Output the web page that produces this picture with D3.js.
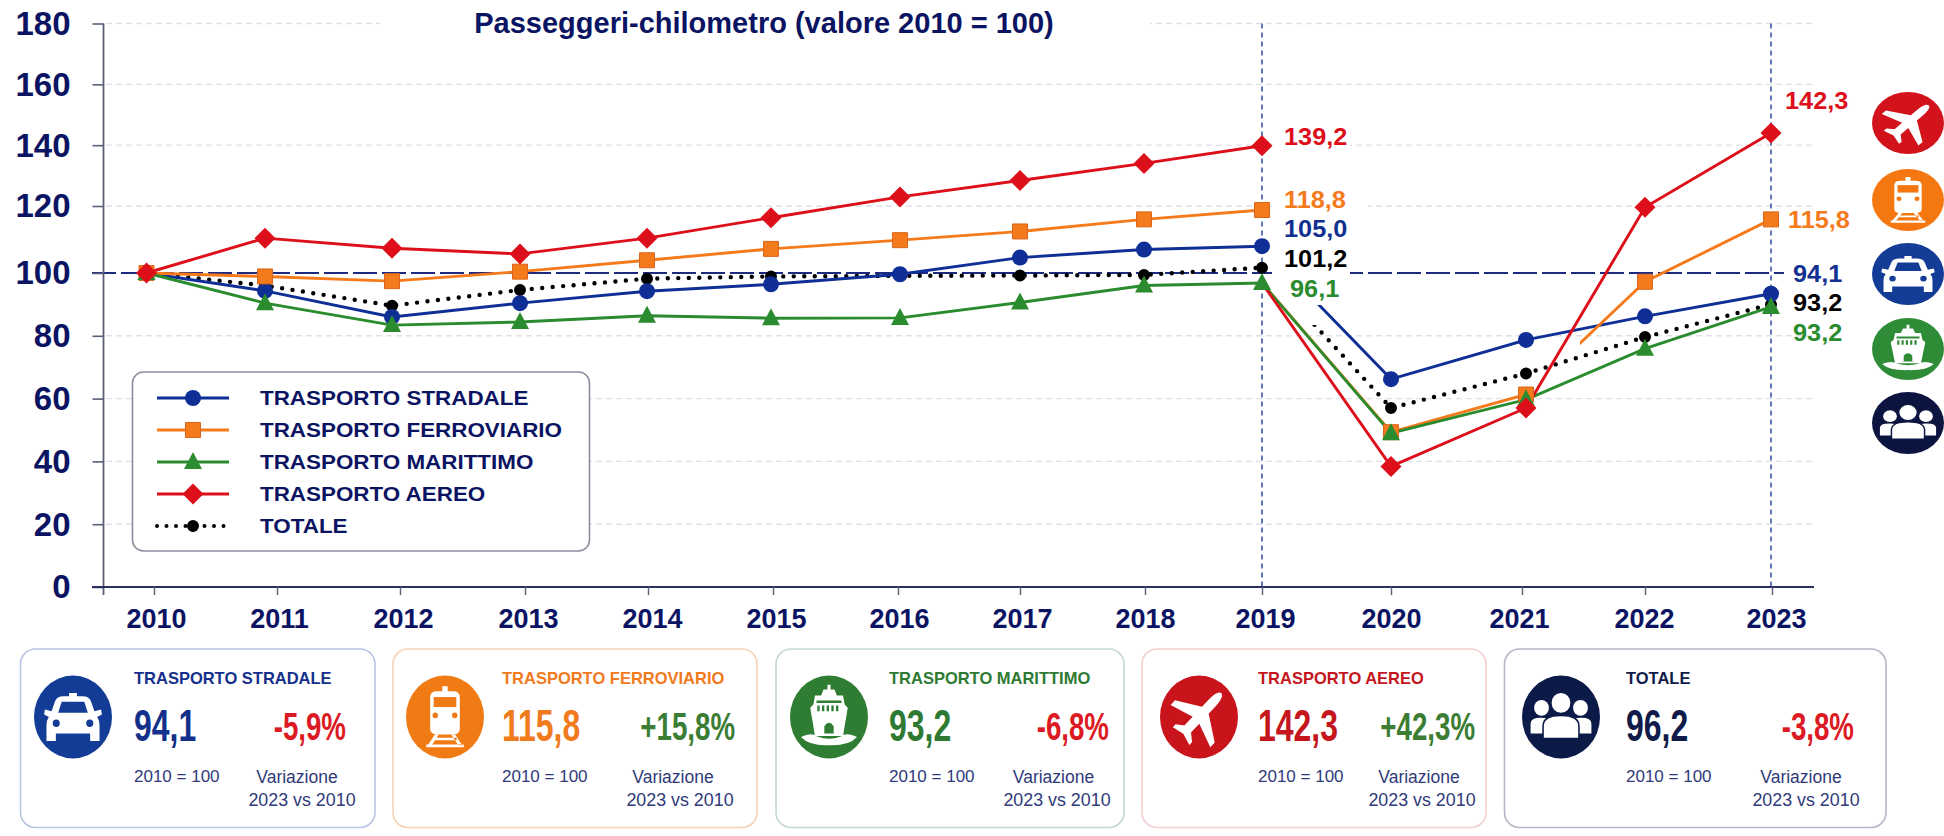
<!DOCTYPE html>
<html><head><meta charset="utf-8">
<style>html,body{margin:0;padding:0;background:#fff;overflow:hidden}svg{display:block}text{font-family:"Liberation Sans",Arial,sans-serif}</style>
<script src="https://cdn.jsdelivr.net/npm/d3@7/dist/d3.min.js"></script>
</head><body><svg id="c" width="1944" height="836"></svg>
<script>
const years=[2010,2011,2012,2013,2014,2015,2016,2017,2018,2019,2020,2021,2022,2023];
const stradale=[100,94.3,86,90.4,94.2,96.4,99.6,104.6,107,108,66.2,78.7,86.2,93.4];
const ferroviario=[100,98.9,97.4,100.4,103.8,107.2,109.8,112.4,116,118.8,49.3,61.3,97.2,116];
const marittimo=[100,90.4,83.4,84.4,86.4,85.6,85.7,90.6,96,96.8,49,59.7,75.9,89.2];
const aereo=[100,110.4,107.4,105.7,110.4,116.5,123,128.4,134,139.8,38.4,57,119.6,144];
const totale=[100,96,89.6,94.6,98.2,98.9,99.1,99.2,99.4,101.6,57,68,79.6,90];
const yTicks=[0,20,40,60,80,100,120,140,160,180];
const legendLabels=["TRASPORTO STRADALE","TRASPORTO FERROVIARIO","TRASPORTO MARITTIMO","TRASPORTO AEREO","TOTALE"];
const cardValues=["94,1","115,8","93,2","142,3","96,2"];
const cardChanges=["-5,9%","+15,8%","-6,8%","+42,3%","-3,8%"];
const labels2019=["139,2","118,8","105,0","101,2","96,1"];
const labels2023=["142,3","115,8","94,1","93,2","93,2"];

const NAVY="#0b1462",C={road:"#0f2f96",rail:"#f47a1c",sea:"#2a8c2e",air:"#dc0f1a",tot:"#000"};
const svg=d3.select("#c");
svg.append("rect").attr("width",1944).attr("height",836).attr("fill","#fff");
const y=d3.scaleLinear().domain([0,100,120,180]).range([587,273,206,23.5]);
const xPt=d3.scaleLinear().domain(years).range([146.5,265,392,520,647,771,900,1020,1144,1262,1391,1526,1645,1771]);
const xTick=d3.scaleLinear().domain(years).range([154,277,400,525,648,773,898,1020,1145,1262,1391,1522,1645,1772]);
const xLabel=d3.scaleLinear().domain(years).range([156,279,403,528,652,776,899,1022,1145,1265,1391,1519,1644,1776]);
function squeeze(sel,f){sel.each(function(){const n=this.getComputedTextLength();this.setAttribute("textLength",n*f);this.setAttribute("lengthAdjust","spacingAndGlyphs");});return sel;}

// grid
const grid=svg.append("g");
grid.selectAll("line").data(yTicks.filter(d=>d!==0&&d!==100)).join("line")
 .attr("x1",106).attr("x2",1815).attr("y1",d=>y(d)).attr("y2",d=>y(d))
 .attr("stroke","#e0e1e8").attr("stroke-width",1.4).attr("stroke-dasharray","6 4");
// title mask
svg.append("rect").attr("x",380).attr("y",8).attr("width",770).attr("height",34).attr("fill","#fff");
// reference line
svg.append("line").attr("x1",92).attr("x2",1784).attr("y1",y(100)).attr("y2",y(100))
 .attr("stroke","#1d2a80").attr("stroke-width",2).attr("stroke-dasharray","24 5");
// verticals
[2019,2023].forEach(v=>svg.append("line").attr("x1",xPt(v)).attr("x2",xPt(v)).attr("y1",y(180)).attr("y2",y(0))
 .attr("stroke","#3d55ad").attr("stroke-width",1.6).attr("stroke-dasharray","5 4"));
// label masks
svg.append("rect").attr("x",1272).attr("y",130).attr("width",78).attr("height",172).attr("fill","#fff");
svg.append("rect").attr("x",1350).attr("y",195).attr("width",18).attr("height",22).attr("fill","#fff");

// axes
const ya=d3.axisLeft(y).tickValues(yTicks).tickSize(11).tickPadding(22);
const yg=svg.append("g").attr("transform","translate(103.5,0)").call(ya);
yg.select(".domain").remove();
yg.selectAll("line").attr("stroke","#5a5e78").attr("stroke-width",1.6);
yg.selectAll("text").attr("fill",NAVY).attr("font-weight",700).attr("font-size",33).attr("dy",".33em");
svg.append("line").attr("x1",103.5).attr("x2",103.5).attr("y1",y(180)).attr("y2",y(0)+8).attr("stroke","#5a5e78").attr("stroke-width",1.8);
svg.append("line").attr("x1",92).attr("x2",1814).attr("y1",y(0)).attr("y2",y(0)).attr("stroke","#2a3060").attr("stroke-width",2);
const xa=d3.axisBottom(xTick).tickValues(years).tickFormat(d3.format("d")).tickSize(8).tickPadding(14);
const xg=svg.append("g").attr("transform",`translate(0,${y(0)})`).call(xa);
xg.select(".domain").remove();
xg.selectAll("line").attr("stroke","#5a5e78").attr("stroke-width",1.4);
xg.selectAll("text").attr("fill",NAVY).attr("font-weight",700).attr("font-size",27).attr("x",d=>xLabel(d)-xTick(d));

// title
svg.append("text").attr("x",764).attr("y",33).attr("text-anchor","middle").attr("fill",NAVY)
 .attr("font-weight",700).attr("font-size",29).text("Passeggeri-chilometro (valore 2010 = 100)");

// series
const idx2019=years.indexOf(2019),idx2020=years.indexOf(2020);
const series=[
 {k:"tot",v:totale,c:C.tot,m:"dot",holes:[[1262,1391,200,325]]},
 {k:"road",v:stradale,c:C.road,m:"circle",holes:[[1263,1391,200,305]]},
 {k:"rail",v:ferroviario,c:C.rail,m:"square",holes:[[1527,1580,300,400]],from2019:marittimo[idx2019]},
 {k:"sea",v:marittimo,c:C.sea,m:"tri",holes:[]},
 {k:"air",v:aereo,c:C.air,m:"dia",holes:[],from2019:marittimo[idx2019]}];
const defs=svg.append("defs");
const line=d3.line().defined(d=>d[1]!=null).x(d=>xPt(d[0])).y(d=>y(d[1]));
const sym={circle:d3.symbol(d3.symbolCircle,201)(),square:d3.symbol(d3.symbolSquare,225)(),
 tri:"M0,-10L9,7L-9,7Z",dia:"M0,-10.5L10.5,0L0,10.5L-10.5,0Z",dot:d3.symbol(d3.symbolCircle,113)()};
series.forEach(s=>{
 let d="M0,0H1944V836H0Z";
 s.holes.forEach(h=>{d+=`M${h[0]},${h[2]}H${h[1]}V${h[3]}H${h[0]}Z`;});
 defs.append("clipPath").attr("id","cp"+s.k).append("path").attr("d",d).attr("clip-rule","evenodd");
 const g=svg.append("g").attr("clip-path",`url(#cp${s.k})`);
 // the falling 2019-2020 stretch of rail and air leaves from the sea marker, as drawn in the reference
 const pairs=s.v.map((v,i)=>[years[i],v]);
 const parts=s.from2019!=null
  ?[pairs.slice(0,idx2019+1),[[2019,s.from2019],pairs[idx2020]],pairs.slice(idx2020)]
  :[pairs];
 parts.forEach(part=>{
  const p=g.append("path").datum(part).attr("d",line).attr("fill","none").attr("stroke",s.c);
  if(s.k==="tot")p.attr("stroke-width",4.4).attr("stroke-linecap","round").attr("stroke-dasharray","0 10.5");
  else p.attr("stroke-width",2.9);
 });
});
series.forEach(s=>{
 svg.append("g").selectAll("path").data(s.v).join("path").attr("d",sym[s.m])
  .attr("transform",(d,i)=>`translate(${xPt(years[i])},${y(d)})`).attr("fill",s.c)
  .attr("stroke",s.k==="rail"?"#d9661a":"none").attr("stroke-width",1);
});

// value labels
const lab=(t,x,yy,c)=>squeeze(svg.append("text").attr("x",x).attr("y",yy).attr("fill",c).attr("font-weight",700).attr("font-size",23).text(t),1.1);
const col2019=[C.air,C.rail,"#12308f","#000",C.sea],col2023=[C.air,C.rail,"#12308f","#000",C.sea];
const py19=[145,208,237,267,297],px19=[1284,1284,1284,1284,1290];
const py23=[109,228,282,311,341],px23=[1785,1788,1793,1793,1793];
labels2019.forEach((t,i)=>lab(t,px19[i],py19[i],col2019[i]));
labels2023.forEach((t,i)=>lab(t,px23[i],py23[i],col2023[i]));

// legend
const lg=svg.append("g");
lg.append("rect").attr("x",132.5).attr("y",372).attr("width",457).attr("height",179).attr("rx",11)
 .attr("fill","#fff").attr("stroke","#8b8f9e").attr("stroke-width",1.6);
const legendOrder=["road","rail","sea","air","tot"];
const ly=d3.scalePoint().domain(legendLabels).range([398,526]);
legendLabels.forEach((t,i)=>{
 const s=series.find(q=>q.k===legendOrder[i]),yy=ly(t);
 const l=lg.append("line").attr("x1",157).attr("x2",229).attr("y1",yy).attr("y2",yy).attr("stroke",s.c);
 if(s.k==="tot")l.attr("stroke-width",4).attr("stroke-linecap","round").attr("stroke-dasharray","0 9.5");else l.attr("stroke-width",2.8);
 lg.append("path").attr("d",sym[s.m]).attr("transform",`translate(193,${yy})`).attr("fill",s.c).attr("stroke",s.k==="rail"?"#d9661a":"none");
 squeeze(lg.append("text").attr("x",260).attr("y",yy+7).attr("fill",NAVY).attr("font-weight",700).attr("font-size",20).text(t),1.12);
});

// icons, drawn in a -100..100 box
const icons={
 plane(g,c){g.append("path").attr("transform","rotate(45) translate(0,-3)").attr("fill","#fff").attr("d","M0,-78C9,-78 12,-60 12,-42L12,-20L72,18L72,34L12,14L12,44L30,58L30,68L0,60L-30,68L-30,58L-12,44L-12,14L-72,34L-72,18L-12,-20L-12,-42C-12,-60 -9,-78 0,-78Z");},
 train(g,c){g.append("path").attr("fill","#fff").attr("d","M-38,-48Q-38,-62 -20,-62L-7,-62L-7,-74L7,-74L7,-62L20,-62Q38,-62 38,-48L38,28Q38,42 22,42L-22,42Q-38,42 -38,28Z");
  g.append("rect").attr("x",-29).attr("y",-48).attr("width",58).attr("height",24).attr("fill",c);
  g.append("circle").attr("cx",-25).attr("cy",-4).attr("r",7).attr("fill",c);g.append("circle").attr("cx",25).attr("cy",-4).attr("r",7).attr("fill",c);
  g.append("path").attr("fill","#fff").attr("d","M-30,50H30V56H-30ZM-48,66H48V73H-48ZM-26,42H-16L-34,68H-44ZM26,42H16L34,68H44Z");},
 car(g,c){g.append("path").attr("fill","#fff").attr("d","M-46,-38Q-41,-50 -25,-50L-10,-50L-10,-58L10,-58L10,-50L25,-50Q41,-50 46,-38L55,-14L72,-18L74,-6L62,0Q68,8 68,20L68,58L44,58L44,40L-44,40L-44,58L-68,58L-68,20Q-68,8 -62,0L-74,-6L-72,-18L-55,-14Z");
  g.append("path").attr("fill",c).attr("d","M-38,-10L-29,-37L29,-37L38,-10Z");
  g.append("circle").attr("cx",-43).attr("cy",15).attr("r",9).attr("fill",c);g.append("circle").attr("cx",43).attr("cy",15).attr("r",9).attr("fill",c);},
 ship(g,c){g.append("path").attr("fill","#fff").attr("d","M-4,-78H4V-66H14L20,-52H36L40,-30L48,-22L36,46L-36,46L-48,-22L-40,-30L-36,-52H-20L-14,-66H-4Z");
  g.append("path").attr("fill",c).attr("d","M-32,-40H32V-34H-32ZM-30,-28H-24V-14H-30ZM-18,-28H-12V-14H-18ZM-6,-28H0V-14H-6ZM6,-28H12V-14H6ZM18,-28H24V-14H18ZM-12,40V22Q0,6 12,22V40Z");
  g.append("path").attr("fill","#fff").attr("d","M-72,48Q-45,36 -30,47Q0,58 30,47Q45,36 72,48Q50,70 0,68Q-50,70 -72,48Z");},
 people(g,c){g.append("circle").attr("cx",-50).attr("cy",-22).attr("r",19).attr("fill","#fff");g.append("circle").attr("cx",50).attr("cy",-22).attr("r",19).attr("fill","#fff");
  g.append("path").attr("fill","#fff").attr("d","M-78,40V16Q-78,2 -52,2Q-26,2 -26,16V40ZM78,40V16Q78,2 52,2Q26,2 26,16V40Z");
  g.append("circle").attr("cx",0).attr("cy",-34).attr("r",26).attr("fill","#fff").attr("stroke",c).attr("stroke-width",4);
  g.append("path").attr("fill","#fff").attr("stroke",c).attr("stroke-width",4).attr("d","M-46,52V22Q-46,-4 0,-4Q46,-4 46,22V52Z");}
};
function icon(kind,c,cx,cy,rx,ry){
 svg.append("ellipse").attr("cx",cx).attr("cy",cy).attr("rx",rx).attr("ry",ry).attr("fill",c);
 const g=svg.append("g").attr("transform",`translate(${cx},${cy}) scale(${rx/100},${ry/100})`);
 icons[kind](g,c);
}
const sideKinds=["plane","train","car","ship","people"];
const sideCols=["#d2131c","#f4780f","#123c96","#2e8b36","#0c1440"];
const sideY=[123,200,274,349,423];
sideKinds.forEach((k,i)=>icon(k,sideCols[i],1908,sideY[i],36,31));

// cards
const cardX0=[20.5,393,776,1142,1504.5],cardX1=[375,757,1124,1486,1886];
const iconX=[73,445,829,1199,1561],textX=[134,502,889,1258,1626],pctR=[346,735,1109,1475,1854],varC=[297,673,1053.5,1419,1801],yearC=[302,680,1057,1422,1806];
const cardKinds=["car","train","ship","plane","people"];
const cardCols=["#123c96","#f07a14","#2f7d33","#c9141c","#0c1a48"];
const cardText=["#14308a","#f07a1c","#2e7a33","#c4161c","#111b4a"];
const cardBorder=["#b9c4e2","#f7d3b4","#c4d8d8","#f3cfcf","#b4b8c6"];
const cardDelta=["#dc1a24","#3a7d33","#dc1a24","#3a7d33","#dc1a24"];
const SUB="#2f3a7a";
legendLabels.forEach((t,i)=>{
 svg.append("rect").attr("x",cardX0[i]).attr("y",649).attr("width",cardX1[i]-cardX0[i]).attr("height",178.5).attr("rx",15)
  .attr("fill","#fff").attr("stroke",cardBorder[i]).attr("stroke-width",1.6);
 icon(cardKinds[i],cardCols[i],iconX[i],717,39,41.5);
 const T=(s,x,yy,fs,w,col,f,a)=>{const e=svg.append("text").attr("x",x).attr("y",yy).attr("font-size",fs).attr("font-weight",w).attr("fill",col).attr("text-anchor",a||"start").text(s);squeeze(e,f);return e;};
 T(t,textX[i],684,17,700,cardText[i],0.97);
 T(cardValues[i],textX[i],741,45,700,cardText[i],0.71);
 T(cardChanges[i],pctR[i],740,39,700,cardDelta[i],0.71,"end");
 T("2010 = 100",textX[i],782,17,400,SUB,1);
 T("Variazione",varC[i],783,17.5,400,SUB,1,"middle");
 T("2023 vs 2010",yearC[i],806,17.5,400,SUB,1.02,"middle");
});
</script></body></html>
